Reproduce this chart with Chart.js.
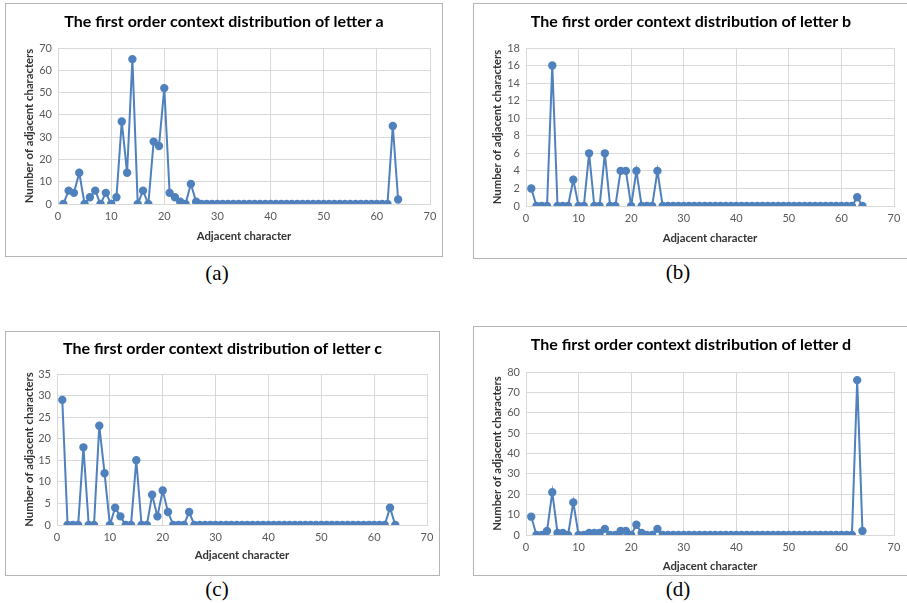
<!DOCTYPE html>
<html>
<head>
<meta charset="utf-8">
<script src="https://cdn.jsdelivr.net/npm/chart.js@4.4.1/dist/chart.umd.min.js"></script>
<style>
  html, body { margin: 0; padding: 0; background: #ffffff; }
  body { width: 907px; height: 603px; position: relative; overflow: hidden; }
  .box { position: absolute; border: 1px solid #b4b4b4; box-sizing: border-box; }
  canvas { position: absolute; }
  .cap { position: absolute; font-family: "Liberation Serif", "DejaVu Serif", serif; font-size: 21px; color: #000; transform: translate(-50%, -50%); white-space: nowrap; }
</style>
</head>
<body>
<div class="box" id="boxA"></div><canvas id="cA"></canvas>
<div class="box" id="boxB"></div><canvas id="cB"></canvas>
<div class="box" id="boxC"></div><canvas id="cC"></canvas>
<div class="box" id="boxD"></div><canvas id="cD"></canvas>
<div class="cap" style="left:217px; top:273px;">(a)</div>
<div class="cap" style="left:678px; top:272px;">(b)</div>
<div class="cap" style="left:217px; top:589px;">(c)</div>
<div class="cap" style="left:678px; top:589px;">(d)</div>
<script>
// ---- data ----
const adjacentCharacter = [
  1,2,3,4,5,6,7,8,9,10,
  11,12,13,14,15,16,17,18,19,20,
  21,22,23,24,25,26,27,28,29,30,
  31,32,33,34,35,36,37,38,39,40,
  41,42,43,44,45,46,47,48,49,50,
  51,52,53,54,55,56,57,58,59,60,
  61,62,63,64
];
const letterA = [
  0,6,5,14,0,3,6,0,5,0,
  3,37,14,65,0,6,0,28,26,52,
  5,3,1,0,9,1,0,0,0,0,
  0,0,0,0,0,0,0,0,0,0,
  0,0,0,0,0,0,0,0,0,0,
  0,0,0,0,0,0,0,0,0,0,
  0,0,35,2
];
const letterB = [
  2,0,0,0,16,0,0,0,3,0,
  0,6,0,0,6,0,0,4,4,0,
  4,0,0,0,4,0,0,0,0,0,
  0,0,0,0,0,0,0,0,0,0,
  0,0,0,0,0,0,0,0,0,0,
  0,0,0,0,0,0,0,0,0,0,
  0,0,1,0
];
const letterC = [
  29,0,0,0,18,0,0,23,12,0,
  4,2,0,0,15,0,0,7,2,8,
  3,0,0,0,3,0,0,0,0,0,
  0,0,0,0,0,0,0,0,0,0,
  0,0,0,0,0,0,0,0,0,0,
  0,0,0,0,0,0,0,0,0,0,
  0,0,4,0
];
const letterD = [
  9,0,0,2,21,1,1,0,16,0,
  0,1,1,1,3,0,0,2,2,0,
  5,1,0,0,3,0,0,0,0,0,
  0,0,0,0,0,0,0,0,0,0,
  0,0,0,0,0,0,0,0,0,0,
  0,0,0,0,0,0,0,0,0,0,
  0,0,76,2
];
const titles = [
  "The first order context distribution of letter a",
  "The first order context distribution of letter b",
  "The first order context distribution of letter c",
  "The first order context distribution of letter d"
];
const xTicks = { min: 0, max: 70, step: 10 };
const yTicksA = { min: 0, max: 70, step: 10 };
const yTicksB = { min: 0, max: 18, step: 2 };
const yTicksC = { min: 0, max: 35, step: 5 };
const yTicksD = { min: 0, max: 80, step: 10 };
const xTitle = "Adjacent character";
const yTitle = "Number of adjacent characters";

// ---- layout ----
const FONT = "Lato, 'Open Sans', 'DejaVu Sans', sans-serif";
const LINE = "#4f81bd";
const GRID = "#d9d9d9";

// centre the chart title on the whole panel (not only inside the right padding)
const centreTitle = {
  id: 'centreTitle',
  afterLayout(chart) {
    const t = chart.titleBlock;
    if (t) { t.left = 0; t.right = chart.width; t.width = chart.width; }
  }
};

function makePanel(boxId, canvasId, spec, values, yT, title) {
  const box = document.getElementById(boxId);
  box.style.left = spec.x + "px"; box.style.top = spec.y + "px";
  box.style.width = spec.w + "px"; box.style.height = spec.h + "px";
  const cv = document.getElementById(canvasId);
  cv.style.left = spec.x + "px"; cv.style.top = spec.y + "px";
  cv.width = spec.w; cv.height = spec.h;
  const tfs = 16, tlh = tfs * 1.2;
  const tPadTop = spec.tc - tlh / 2;
  const tPadBot = spec.t - tPadTop - tlh;
  const afs = 11.3, alh = afs * 1.2;
  const pts = adjacentCharacter.map((x, i) => ({ x: x, y: values[i] }));
  new Chart(cv, {
    type: 'line',
    plugins: [centreTitle],
    data: { datasets: [{
      data: pts,
      borderColor: LINE, backgroundColor: LINE,
      pointBackgroundColor: LINE, pointBorderColor: LINE,
      borderWidth: 2, pointRadius: 3.2, pointHoverRadius: 3.2,
      tension: 0, fill: false
    }]},
    options: {
      responsive: false, animation: false, devicePixelRatio: 1,
      layout: { padding: { left: 0, right: spec.w - spec.r, top: 0, bottom: 0 } },
      plugins: {
        legend: { display: false }, tooltip: { enabled: false },
        title: { display: true, text: title, color: "#000",
          font: { family: FONT, size: tfs, weight: 'bold', lineHeight: 1.2 },
          padding: { top: tPadTop, bottom: tPadBot } }
      },
      scales: {
        x: {
          type: 'linear', min: xTicks.min, max: xTicks.max,
          ticks: { stepSize: xTicks.step, color: "#595959", padding: 6,
            font: { family: FONT, size: 11 } },
          grid: { color: GRID, drawTicks: false, lineWidth: 1 },
          border: { display: true, color: GRID },
          title: { display: true, text: xTitle, color: "#333333",
            font: { family: FONT, size: afs, weight: 'bold', lineHeight: 1.2 },
            padding: { top: 0, bottom: (spec.h - spec.xc) - alh / 2 } },
          afterFit: s => { s.height = spec.h - spec.b; }
        },
        y: {
          type: 'linear', min: yT.min, max: yT.max,
          ticks: { stepSize: yT.step, color: "#595959", padding: 6,
            font: { family: FONT, size: 11 } },
          grid: { color: GRID, drawTicks: false, lineWidth: 1 },
          border: { display: true, color: GRID },
          title: { display: true, text: yTitle, color: "#333333",
            font: { family: FONT, size: afs, weight: 'bold', lineHeight: 1.2 },
            padding: { top: spec.yc - alh / 2, bottom: 0 } },
          afterFit: s => { s.width = spec.l; }
        }
      }
    }
  });
}

// spec: box x,y,w,h ; chart area l,r,t,b (relative to box); title centre tc ; x-title centre xc ; y-title centre yc
makePanel("boxA", "cA", { x: 5, y: 3, w: 438, h: 254, l: 53, r: 425, t: 45, b: 201, tc: 19, xc: 233, yc: 24 }, letterA, yTicksA, titles[0]);
makePanel("boxB", "cB", { x: 473, y: 3, w: 436, h: 256, l: 53, r: 421, t: 45, b: 203, tc: 19, xc: 235, yc: 24 }, letterB, yTicksB, titles[1]);
makePanel("boxC", "cC", { x: 5, y: 331, w: 435, h: 245, l: 52, r: 422, t: 43, b: 194, tc: 18, xc: 224, yc: 24 }, letterC, yTicksC, titles[2]);
makePanel("boxD", "cD", { x: 473, y: 326, w: 436, h: 250, l: 53, r: 421, t: 46, b: 209, tc: 19, xc: 240, yc: 24 }, letterD, yTicksD, titles[3]);
</script>
</body>
</html>
